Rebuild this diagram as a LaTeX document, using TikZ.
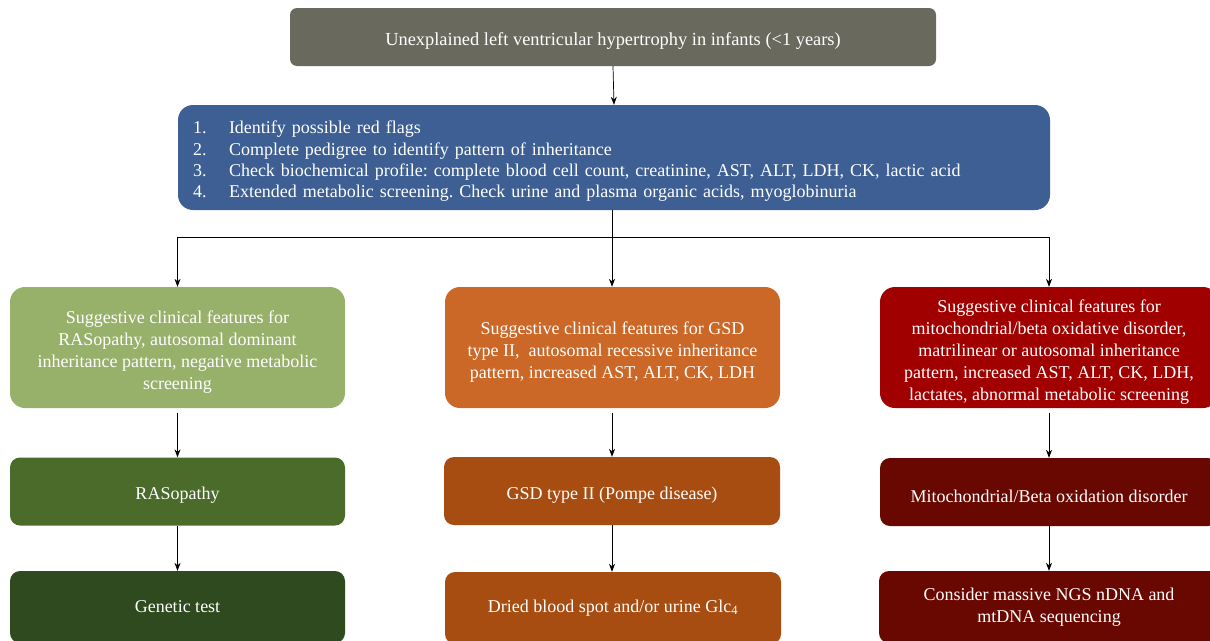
\documentclass[tikz,border=0pt]{standalone}
\usepackage{fontspec}
\setmainfont{Liberation Serif}
\usetikzlibrary{arrows.meta}
\definecolor{cgray}{HTML}{69695D}
\definecolor{cblue}{HTML}{3D5F93}
\definecolor{cg1}{HTML}{97B16B}
\definecolor{cg2}{HTML}{4A6B2A}
\definecolor{cg3}{HTML}{2E4A1E}
\definecolor{co1}{HTML}{CB6828}
\definecolor{co2}{HTML}{A84D12}
\definecolor{cr1}{HTML}{A00000}
\definecolor{cr2}{HTML}{680800}
\newcommand\lowerstrut{\rule{0pt}{21pt}}
\frenchspacing
\begin{document}
\begin{tikzpicture}[x=1pt,y=-1pt,
  box/.style={rectangle, text=white, inner sep=0pt, align=center,
    font=\fontsize{18}{22}\selectfont},
  lower/.style={execute at begin node={\rule{0pt}{20.5pt}}},
  big/.style={box, rounded corners=15pt, minimum height=121pt},
  small/.style={box, rounded corners=10pt, minimum height=68pt},
  arr/.style={-{Stealth[length=8pt,width=6pt]}, line width=0.7pt},
  ln/.style={line width=0.7pt}]
\useasboundingbox (0,0) rectangle (1210,640);
\fill[white] (0,0) rectangle (1210,640);

\node[box, lower, fill=cgray, rounded corners=7pt, minimum width=646pt, minimum height=58pt,
  font=\fontsize{18.4}{22}\selectfont] (top) at (613,37) {Unexplained left ventricular hypertrophy in infants (<1 years)};

\node[box, lower, fill=cblue, rounded corners=15pt, minimum width=872pt, minimum height=105pt, text width=842pt, align=left,
  font=\fontsize{18}{21.4}\selectfont] (steps) at (614,157.5)
  {\makebox[36pt][l]{1.}Identify possible red flags\\
   \makebox[36pt][l]{2.}Complete pedigree to identify pattern of inheritance\\
   \makebox[36pt][l]{3.}Check biochemical profile: complete blood cell count, creatinine, AST, ALT, LDH, CK, lactic acid\\
   \makebox[36pt][l]{4.}Extended metabolic screening. Check urine and plasma organic acids, myoglobinuria};

\node[big, fill=cg1, minimum width=335pt] (l1) at (177.5,347.5)
  {\lowerstrut Suggestive clinical features for\\ RASopathy, autosomal dominant\\ inheritance pattern, negative metabolic\\ screening};
\node[small, lower, fill=cg2, minimum width=335pt] (l2) at (177.5,491.5) {RASopathy};
\node[small, fill=cg3, minimum width=335pt, minimum height=72pt] (l3) at (177.5,607) {Genetic test};

\node[big, fill=co1, minimum width=335pt] (m1) at (612.5,347.5)
  {\lowerstrut Suggestive clinical features for GSD\\ type II,\ \ autosomal recessive inheritance\\ pattern, increased AST, ALT, CK, LDH};
\node[small, lower, fill=co2, minimum width=336pt] (m2) at (612,491) {GSD type II (Pompe disease)};
\node[small, fill=co2, minimum width=336pt, minimum height=72pt] (m3) at (613,608) {Dried blood spot and/or urine Glc\textsubscript{4}};

\node[big, fill=cr1, minimum width=338pt] (r1) at (1049,347.5)
  {\lowerstrut Suggestive clinical features for\\ mitochondrial/beta oxidative disorder,\\ matrilinear or autosomal inheritance\\ pattern, increased AST, ALT, CK, LDH,\\ lactates, abnormal metabolic screening};
\node[small, lower, fill=cr2, minimum width=338pt] (r2) at (1049,492) {Mitochondrial/Beta oxidation disorder};
\node[small, fill=cr2, minimum width=340pt, minimum height=72pt] (r3) at (1049,607) {Consider massive NGS nDNA and\\ mtDNA sequencing};

\coordinate (hub) at (612,237);
\coordinate (hl) at (177.5,237);
\coordinate (hr) at (1049,237);

\draw[arr] (top.south) -- (steps.north);
\draw[ln] (steps.south -| hub) -- (hub);
\draw[ln] (hl) -- (hr);
\draw[arr] (hl) -- (l1.north);
\draw[arr] (hub) -- (m1.north -| hub);
\draw[arr] (hr) -- (r1.north);

\draw[arr] ([yshift=-5pt]l1.south) -- (l2.north);
\draw[arr] (l2.south) -- (l3.north);
\draw[arr] ([yshift=-5pt]m1.south -| hub) -- (m2.north -| hub);
\draw[arr] (m2.south -| hub) -- (m3.north -| hub);
\draw[arr] ([yshift=-5pt]r1.south) -- (r2.north);
\draw[arr] (r2.south) -- (r3.north);
\end{tikzpicture}
\end{document}
